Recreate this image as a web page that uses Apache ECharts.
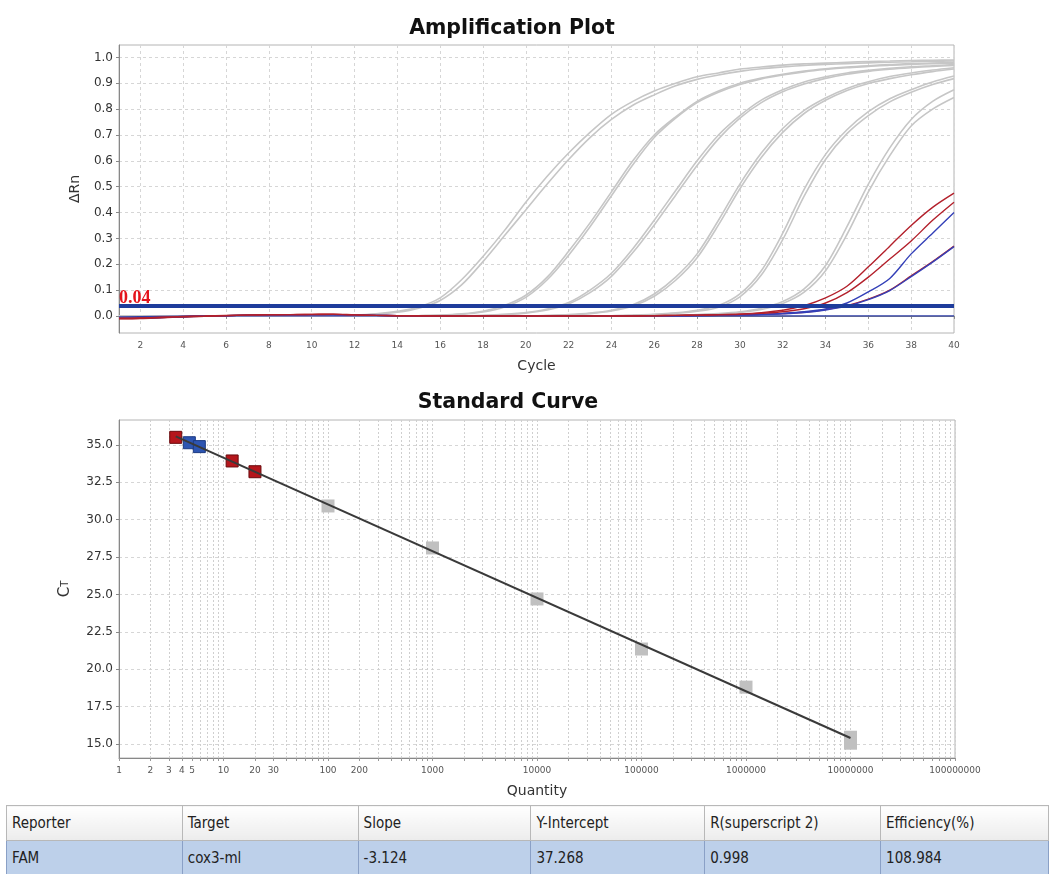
<!DOCTYPE html>
<html>
<head>
<meta charset="utf-8">
<title>Amplification Plot / Standard Curve</title>
<script src="https://cdn.jsdelivr.net/npm/echarts@6/dist/echarts.min.js"></script>
<style>
  body { margin: 0; background: #fff; }
  #chart { position: absolute; left: 0; top: 0; width: 1049px; height: 802px; }
  #result { position: absolute; left: 6px; top: 805px; border-collapse: collapse; table-layout: fixed;
            font-family: 'DejaVu Sans Condensed', 'DejaVu Sans', sans-serif; font-size: 15px; color: #222; }
  #result th, #result td { text-align: left; padding: 0 5px; white-space: nowrap; overflow: hidden; }
  #result th { height: 34px; font-weight: normal; border: 1px solid #b8b8b8; background: linear-gradient(#ffffff, #ececec); }
  #result td { height: 33px; border: 1px solid #8aa0c6; background: #bdd0ea; }
</style>
</head>
<body>
<div id="chart"></div>
<table id="result">
  <colgroup>
    <col style="width:176px"><col style="width:176px"><col style="width:173px">
    <col style="width:174px"><col style="width:176px"><col style="width:168px">
  </colgroup>
  <thead><tr id="resultHead"></tr></thead>
  <tbody><tr id="resultRow"></tr></tbody>
</table>
<script>
// ---------- Amplification plot ----------
const cycles = [1, 2, 3, 4, 5, 6, 7, 8, 9, 10, 11, 12, 13, 14, 15, 16, 17, 18, 19, 20,
  21, 22, 23, 24, 25, 26, 27, 28, 29, 30, 31, 32, 33, 34, 35, 36, 37, 38, 39, 40]
const cycleTicks = [2, 4, 6, 8, 10, 12, 14, 16, 18, 20, 22, 24, 26, 28, 30, 32, 34, 36, 38, 40]
const rnTicks = [0, 0.1, 0.2, 0.3, 0.4, 0.5, 0.6, 0.7, 0.8, 0.9, 1.0]
const threshold = 0.04

// standards (grey), two wells per dilution
const std1a = [0, 0, 0, 0, 0, 0, 0, 0, 0, 0, 0.001, 0.003, 0.008, 0.018, 0.035, 0.07, 0.14, 0.23, 0.33, 0.44,
  0.54, 0.63, 0.71, 0.78, 0.83, 0.87, 0.9, 0.925, 0.94, 0.955, 0.963, 0.97, 0.975, 0.978, 0.981, 0.984, 0.986, 0.988, 0.989, 0.99]
const std1b = [0, 0, 0, 0, 0, 0, 0, 0, 0, 0, 0.001, 0.002, 0.006, 0.014, 0.03, 0.06, 0.12, 0.21, 0.31, 0.41,
  0.51, 0.605, 0.69, 0.76, 0.815, 0.855, 0.89, 0.915, 0.932, 0.946, 0.956, 0.963, 0.969, 0.973, 0.976, 0.979, 0.981, 0.983, 0.985, 0.986]
const std2a = [0, 0, 0, 0, 0, 0, 0, 0, 0, 0, 0, 0, 0, 0, 0.001, 0.003, 0.008, 0.018, 0.04, 0.08,
  0.15, 0.25, 0.36, 0.48, 0.6, 0.7, 0.77, 0.83, 0.87, 0.9, 0.92, 0.935, 0.947, 0.956, 0.963, 0.968, 0.972, 0.976, 0.978, 0.98]
const std2b = [0, 0, 0, 0, 0, 0, 0, 0, 0, 0, 0, 0, 0, 0, 0.001, 0.002, 0.006, 0.015, 0.035, 0.072,
  0.14, 0.235, 0.345, 0.465, 0.585, 0.69, 0.765, 0.825, 0.865, 0.895, 0.917, 0.932, 0.944, 0.953, 0.96, 0.965, 0.97, 0.973, 0.976, 0.978]
const std3a = [0, 0, 0, 0, 0, 0, 0, 0, 0, 0, 0, 0, 0, 0, 0, 0, 0, 0.002, 0.006, 0.013,
  0.027, 0.052, 0.1, 0.165, 0.26, 0.37, 0.485, 0.6, 0.7, 0.775, 0.835, 0.875, 0.905, 0.925, 0.94, 0.95, 0.958, 0.964, 0.968, 0.972]
const std3b = [0, 0, 0, 0, 0, 0, 0, 0, 0, 0, 0, 0, 0, 0, 0, 0, 0, 0.001, 0.005, 0.011,
  0.023, 0.046, 0.09, 0.153, 0.245, 0.352, 0.467, 0.582, 0.685, 0.765, 0.825, 0.867, 0.897, 0.919, 0.935, 0.946, 0.954, 0.96, 0.965, 0.969]
const std4a = [0, 0, 0, 0, 0, 0, 0, 0, 0, 0, 0, 0, 0, 0, 0, 0, 0, 0, 0, 0,
  0.002, 0.005, 0.011, 0.022, 0.043, 0.085, 0.15, 0.24, 0.37, 0.51, 0.63, 0.725, 0.795, 0.843, 0.88, 0.906, 0.926, 0.94, 0.951, 0.96]
const std4b = [0, 0, 0, 0, 0, 0, 0, 0, 0, 0, 0, 0, 0, 0, 0, 0, 0, 0, 0, 0,
  0.001, 0.004, 0.009, 0.019, 0.038, 0.076, 0.138, 0.225, 0.352, 0.492, 0.613, 0.71, 0.783, 0.834, 0.872, 0.899, 0.918, 0.933, 0.945, 0.955]
const std5a = [0, 0, 0, 0, 0, 0, 0, 0, 0, 0, 0, 0, 0, 0, 0, 0, 0, 0, 0, 0,
  0, 0, 0, 0.001, 0.003, 0.006, 0.012, 0.022, 0.04, 0.085, 0.175, 0.32, 0.49, 0.625, 0.72, 0.79, 0.84, 0.875, 0.905, 0.928]
const std5b = [0, 0, 0, 0, 0, 0, 0, 0, 0, 0, 0, 0, 0, 0, 0, 0, 0, 0, 0, 0,
  0, 0, 0, 0.001, 0.002, 0.005, 0.01, 0.018, 0.034, 0.074, 0.158, 0.295, 0.463, 0.605, 0.705, 0.775, 0.828, 0.865, 0.895, 0.918]
const std6a = [0, 0, 0, 0, 0, 0, 0, 0, 0, 0, 0, 0, 0, 0, 0, 0, 0, 0, 0, 0,
  0, 0, 0, 0, 0.001, 0.002, 0.003, 0.005, 0.009, 0.016, 0.03, 0.056, 0.105, 0.195, 0.345, 0.51, 0.65, 0.76, 0.83, 0.875]
const std6b = [0, 0, 0, 0, 0, 0, 0, 0, 0, 0, 0, 0, 0, 0, 0, 0, 0, 0, 0, 0,
  0, 0, 0, 0, 0.001, 0.001, 0.002, 0.004, 0.007, 0.013, 0.025, 0.048, 0.092, 0.175, 0.315, 0.48, 0.62, 0.735, 0.8, 0.845]

// no template control (flat blue)
const ntc = [-0.004, -0.003, -0.002, -0.001, 0, 0, 0, 0, 0, 0, 0, 0, 0, 0, 0, 0, 0, 0, 0, 0,
  0, 0, 0, 0, 0, 0, 0, 0, 0, 0, 0, 0, 0, 0, 0, 0, 0, 0, 0, 0]

// unknown samples
const red1 = [-0.009, -0.008, -0.005, -0.002, 0, 0.002, 0.004, 0.005, 0.005, 0.006, 0.007, 0.004, 0.002, 0.001, 0.001, 0, 0, 0, 0, 0,
  0, 0, 0, 0, 0, 0.001, 0.002, 0.003, 0.005, 0.008, 0.013, 0.022, 0.04, 0.07, 0.115, 0.19, 0.27, 0.35, 0.42, 0.475]
const red2 = [-0.01, -0.009, -0.006, -0.003, -0.001, 0.001, 0.003, 0.004, 0.005, 0.005, 0.006, 0.004, 0.002, 0.001, 0, 0, 0, 0, 0, 0,
  0, 0, 0, 0, 0, 0.001, 0.002, 0.003, 0.004, 0.006, 0.01, 0.016, 0.028, 0.05, 0.09, 0.15, 0.22, 0.29, 0.37, 0.44]
const blue1 = [-0.008, -0.007, -0.005, -0.002, 0, 0.001, 0.003, 0.004, 0.004, 0.005, 0.005, 0.003, 0.002, 0.001, 0, 0, 0, 0, 0, 0,
  0, 0, 0, 0, 0, 0.001, 0.001, 0.002, 0.003, 0.004, 0.006, 0.01, 0.016, 0.027, 0.05, 0.093, 0.145, 0.24, 0.32, 0.4]
const red3 = [-0.011, -0.01, -0.007, -0.004, -0.001, 0.001, 0.003, 0.004, 0.005, 0.006, 0.006, 0.004, 0.002, 0.001, 0, 0, 0, 0, 0, 0,
  0, 0, 0, 0, 0, 0.001, 0.001, 0.002, 0.003, 0.004, 0.006, 0.009, 0.014, 0.025, 0.04, 0.065, 0.1, 0.155, 0.21, 0.27]
const blue2 = [-0.009, -0.008, -0.006, -0.003, 0, 0.001, 0.003, 0.004, 0.004, 0.005, 0.005, 0.003, 0.002, 0.001, 0, 0, 0, 0, 0, 0,
  0, 0, 0, 0, 0, 0, 0.001, 0.001, 0.002, 0.003, 0.005, 0.008, 0.013, 0.023, 0.038, 0.063, 0.098, 0.152, 0.208, 0.268]

const greyCurves = [std1a, std1b, std2a, std2b, std3a, std3b, std4a, std4b, std5a, std5b, std6a, std6b]
const sampleCurves = [
  { values: red3, color: '#b3202b' },
  { values: blue2, color: '#3440b8' },
  { values: blue1, color: '#3440b8' },
  { values: red2, color: '#b3202b' },
  { values: red1, color: '#b3202b' }
]

// ---------- Standard curve ----------
const qtyLabels = [1, 2, 3, 4, 5, 10, 20, 30, 100, 200, 1000, 10000, 100000, 1000000, 10000000, 100000000]
const qtyDecades = [1, 10, 100, 1000, 10000, 100000, 1000000, 10000000]
const qtySteps = [1, 2, 3, 4, 5, 6, 7, 8, 9]
const ctTicks = [15, 17.5, 20, 22.5, 25, 27.5, 30, 32.5, 35]

const stdQty = [100, 1000, 10000, 100000, 1000000, 10000000, 10000000]
const stdCt = [30.92, 28.11, 24.70, 21.35, 18.80, 15.45, 15.05]
const redQty = [3.49, 12.1, 20.0]
const redCt = [35.51, 33.93, 33.21]
const blueQty = [4.71, 5.87]
const blueCt = [35.15, 34.89]
const fitQty = [3.49, 10000000]
const fitCt = [35.57, 15.40]

// result table
const tableHead = ['Reporter', 'Target', 'Slope', 'Y-Intercept', 'R(superscript 2)', 'Efficiency(%)']
const tableRow = ['FAM', 'cox3-ml', '-3.124', '37.268', '0.998', '108.984']

const FONT = 'DejaVu Sans'

const toPairs = (xs, ys) => xs.map((x, i) => [x, ys[i]])
const toLogPairs = (xs, ys) => xs.map((x, i) => [Math.log10(x), ys[i]])

const initChart = () => {
  const chartInstance = echarts.init(document.getElementById('chart'), null, { renderer: 'canvas' })

  const qtyMinor = []
  qtyDecades.forEach(d => qtySteps.forEach(s => qtyMinor.push(Math.log10(d * s))))
  qtyMinor.push(8)

  const series = []
  greyCurves.forEach(vals => {
    series.push({
      type: 'line', xAxisIndex: 0, yAxisIndex: 0, data: toPairs(cycles, vals),
      showSymbol: false, smooth: 0.3, silent: true,
      lineStyle: { color: '#c6c6c6', width: 1.6 }
    })
  })
  series.push({
    type: 'line', xAxisIndex: 0, yAxisIndex: 0, data: toPairs(cycles, ntc),
    showSymbol: false, silent: true,
    lineStyle: { color: '#2f3fa8', width: 1.3 }
  })
  sampleCurves.forEach(s => {
    series.push({
      type: 'line', xAxisIndex: 0, yAxisIndex: 0, data: toPairs(cycles, s.values),
      showSymbol: false, smooth: 0.3, silent: true,
      lineStyle: { color: s.color, width: 1.4 }
    })
  })
  // threshold
  series[series.length - 1].markLine = {
    silent: true, symbol: 'none', animation: false,
    data: [{ yAxis: threshold }],
    lineStyle: { color: '#1e3c9b', width: 4, type: 'solid' },
    label: {
      position: 'insideStartTop', formatter: String(threshold), distance: [0, -2], padding: 0,
      color: '#e4141c', fontFamily: 'Liberation Serif', fontWeight: 'bold', fontSize: 18
    }
  }

  // standard curve
  series.push({
    type: 'line', xAxisIndex: 1, yAxisIndex: 1, data: toLogPairs(fitQty, fitCt),
    showSymbol: false, silent: true, lineStyle: { color: '#3a3a3a', width: 2 }
  })
  series.push({
    type: 'scatter', xAxisIndex: 1, yAxisIndex: 1, data: toLogPairs(stdQty, stdCt),
    symbol: 'rect', symbolSize: 13, itemStyle: { color: '#c0c0c0', opacity: 1 }
  })
  series.push({
    type: 'scatter', xAxisIndex: 1, yAxisIndex: 1, data: toLogPairs(redQty, redCt),
    symbol: 'rect', symbolSize: 12, itemStyle: { color: '#b5161c', borderColor: '#6a0a0d', borderWidth: 1, opacity: 1 }
  })
  series.push({
    type: 'scatter', xAxisIndex: 1, yAxisIndex: 1, data: toLogPairs(blueQty, blueCt),
    symbol: 'rect', symbolSize: 12, itemStyle: { color: '#2d55b2', borderColor: '#1b3a82', borderWidth: 1, opacity: 1 }
  })

  const smallLabel = { fontFamily: FONT, fontSize: 9, color: '#555', margin: 8 }
  const bigLabel = { fontFamily: FONT, fontSize: 12, color: '#333', margin: 6 }
  const gridLine = { show: true, lineStyle: { color: '#d6d6d6', type: [3, 3], width: 1 } }

  const option = {
    animation: false,
    backgroundColor: '#fff',
    title: [
      { text: 'Amplification Plot', left: 507, top: 13, textAlign: 'center',
        textStyle: { fontFamily: FONT, fontWeight: 'bold', fontSize: 20.5, color: '#111' } },
      { text: 'Standard Curve', left: 503, top: 387, textAlign: 'center',
        textStyle: { fontFamily: FONT, fontWeight: 'bold', fontSize: 20.5, color: '#111' } }
    ],
    grid: [
      { left: 119, top: 45, width: 835, height: 288, show: true, borderColor: '#b4b4b4', borderWidth: 1 },
      { left: 119, top: 420, width: 836, height: 338, show: true, borderColor: '#b4b4b4', borderWidth: 1 }
    ],
    xAxis: [
      {
        type: 'value', gridIndex: 0, min: 1, max: 40,
        name: 'Cycle', nameLocation: 'middle', nameGap: 26,
        nameTextStyle: { fontFamily: FONT, fontSize: 14, color: '#333' },
        axisLine: { lineStyle: { color: '#888' } },
        axisTick: { customValues: cycleTicks, length: 3, lineStyle: { color: '#888' } },
        axisLabel: Object.assign({ customValues: cycleTicks }, smallLabel),
        splitLine: gridLine
      },
      {
        type: 'value', gridIndex: 1, min: 0, max: 8,
        name: 'Quantity', nameLocation: 'middle', nameGap: 26,
        nameTextStyle: { fontFamily: FONT, fontSize: 14, color: '#333' },
        axisLine: { lineStyle: { color: '#888' } },
        axisTick: { customValues: qtyMinor, length: 3, lineStyle: { color: '#999' } },
        axisLabel: Object.assign({
          customValues: qtyLabels.map(q => Math.log10(q)),
          formatter: v => String(Math.round(Math.pow(10, v)))
        }, smallLabel),
        splitLine: { show: true, lineStyle: { color: '#cfcfcf', type: [2, 2], width: 1 } }
      }
    ],
    yAxis: [
      {
        type: 'value', gridIndex: 0, min: -0.066, max: 1.048,
        name: 'ΔRn', nameLocation: 'middle', nameGap: 37,
        nameTextStyle: { fontFamily: FONT, fontSize: 14, color: '#333' },
        axisLine: { show: true, lineStyle: { color: '#888' } },
        axisTick: { show: true, customValues: rnTicks, length: 3, lineStyle: { color: '#888' } },
        axisLabel: Object.assign({ customValues: rnTicks, formatter: v => v.toFixed(1) }, bigLabel),
        splitLine: gridLine
      },
      {
        type: 'value', gridIndex: 1, min: 14.06, max: 36.67,
        name: '{c|C}{t|T}', nameLocation: 'middle', nameGap: 46,
        nameTextStyle: { fontFamily: FONT, fontSize: 15, color: '#333',
          rich: { c: { fontFamily: FONT, fontSize: 15, color: '#333' }, t: { fontFamily: FONT, fontSize: 10, color: '#333' } } },
        axisLine: { show: true, lineStyle: { color: '#888' } },
        axisTick: { show: true, customValues: ctTicks, length: 3, lineStyle: { color: '#888' } },
        axisLabel: Object.assign({ customValues: ctTicks, formatter: v => v.toFixed(1) }, bigLabel),
        splitLine: gridLine
      }
    ],
    series: series
  }
  chartInstance.setOption(option)
}

const fillTable = () => {
  document.getElementById('resultHead').innerHTML = tableHead.map(t => '<th>' + t + '</th>').join('')
  document.getElementById('resultRow').innerHTML = tableRow.map(t => '<td>' + t + '</td>').join('')
}

initChart()
fillTable()
</script>
</body>
</html>
